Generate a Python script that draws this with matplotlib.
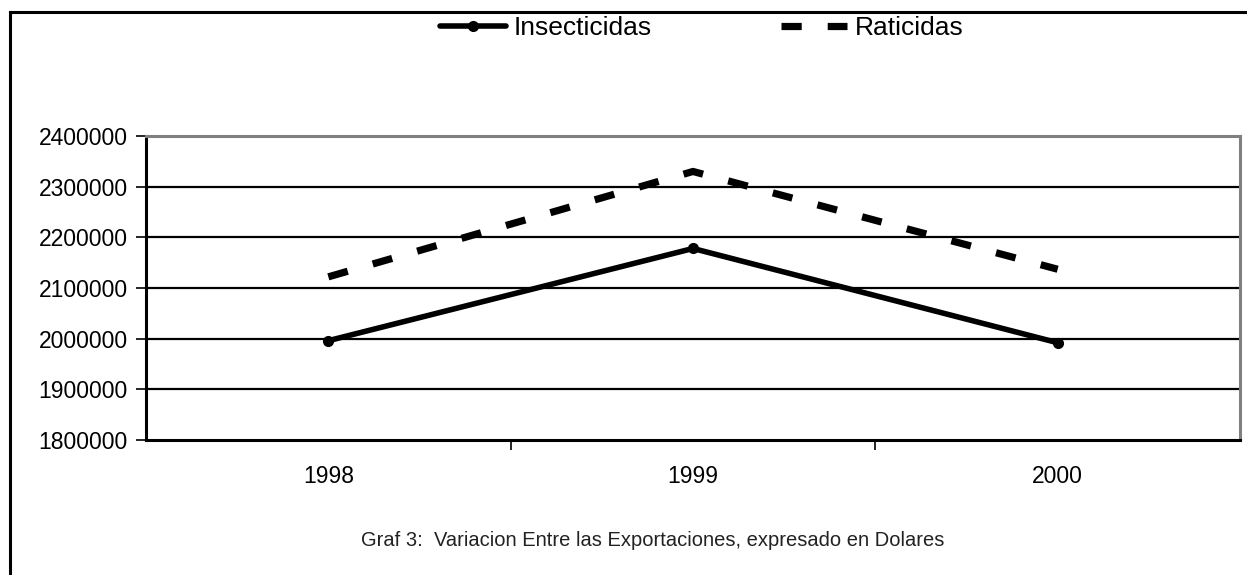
import matplotlib
matplotlib.use("Agg")
import matplotlib.pyplot as plt
from matplotlib.lines import Line2D

# datos
anios = ["1998", "1999", "2000"]
insecticidas = [1996000, 2178000, 1992000]
raticidas = [2122000, 2330000, 2137000]
y_ticks = [1800000, 1900000, 2000000, 2100000, 2200000, 2300000, 2400000]
titulo = "Graf 3:  Variacion Entre las Exportaciones, expresado en Dolares"

plt.rcParams['font.family'] = ['Liberation Sans', 'DejaVu Sans']

W, H = 1247, 575
fig = plt.figure(figsize=(W / 100, H / 100), dpi=100)
ax = fig.add_axes([146 / W, 1 - 440 / H, (1240 - 146) / W, (440 - 136) / H])

x = list(range(len(anios)))
ax.plot(x, insecticidas, color='black', linewidth=4.0, marker='o', markersize=7,
        solid_capstyle='round', label='Insecticidas', zorder=3)
ax.plot(x, raticidas, color='black', linewidth=5.2, linestyle=(0, (2.8, 3.6)),
        label='Raticidas', zorder=3)

ax.set_xlim(-0.5, len(anios) - 0.5)
ax.set_ylim(y_ticks[0], y_ticks[-1])
ax.set_yticks(y_ticks)
ax.set_yticklabels([str(v) for v in y_ticks], fontsize=16.5)
for v in y_ticks[1:-1]:
    ax.axhline(v, color='black', linewidth=1.6, zorder=1)

# marcas mayores entre categorias, etiquetas en el centro
ax.set_xticks([i + 0.5 for i in x[:-1]])
ax.set_xticklabels([])
ax.set_xticks(x, minor=True)
ax.set_xticklabels(anios, minor=True, fontsize=16.5)
ax.tick_params(axis='x', which='major', direction='out', length=7, width=1.2)
ax.tick_params(axis='x', which='minor', length=0, pad=18)
ax.tick_params(axis='y', direction='out', length=7, width=1.2, pad=6)

for s in ['left', 'bottom']:
    ax.spines[s].set_linewidth(2.2)
    ax.spines[s].set_color('black')
for s in ['top', 'right']:
    ax.spines[s].set_linewidth(2.2)
    ax.spines[s].set_color('#808080')

fig.legend(loc='center', bbox_to_anchor=(702 / W, 1 - 28 / H), ncol=2, frameon=False,
           fontsize=19, handlelength=2.5, columnspacing=4.9, handletextpad=0.3)

fig.text(653 / W, 1 - 540 / H, titulo, ha='center', va='center', fontsize=14.5,
         family=['Liberation Sans Narrow', 'Liberation Sans', 'DejaVu Sans'], color='#222222')

# marco exterior (solo lados superior e izquierdo visibles)
fig.add_artist(Line2D([10 / W, 1.0], [1 - 12 / H, 1 - 12 / H], color='black', linewidth=2.2))
fig.add_artist(Line2D([10 / W, 10 / W], [1 - 12 / H, 0.0], color='black', linewidth=2.2))

fig.savefig('out.png', dpi=100)
